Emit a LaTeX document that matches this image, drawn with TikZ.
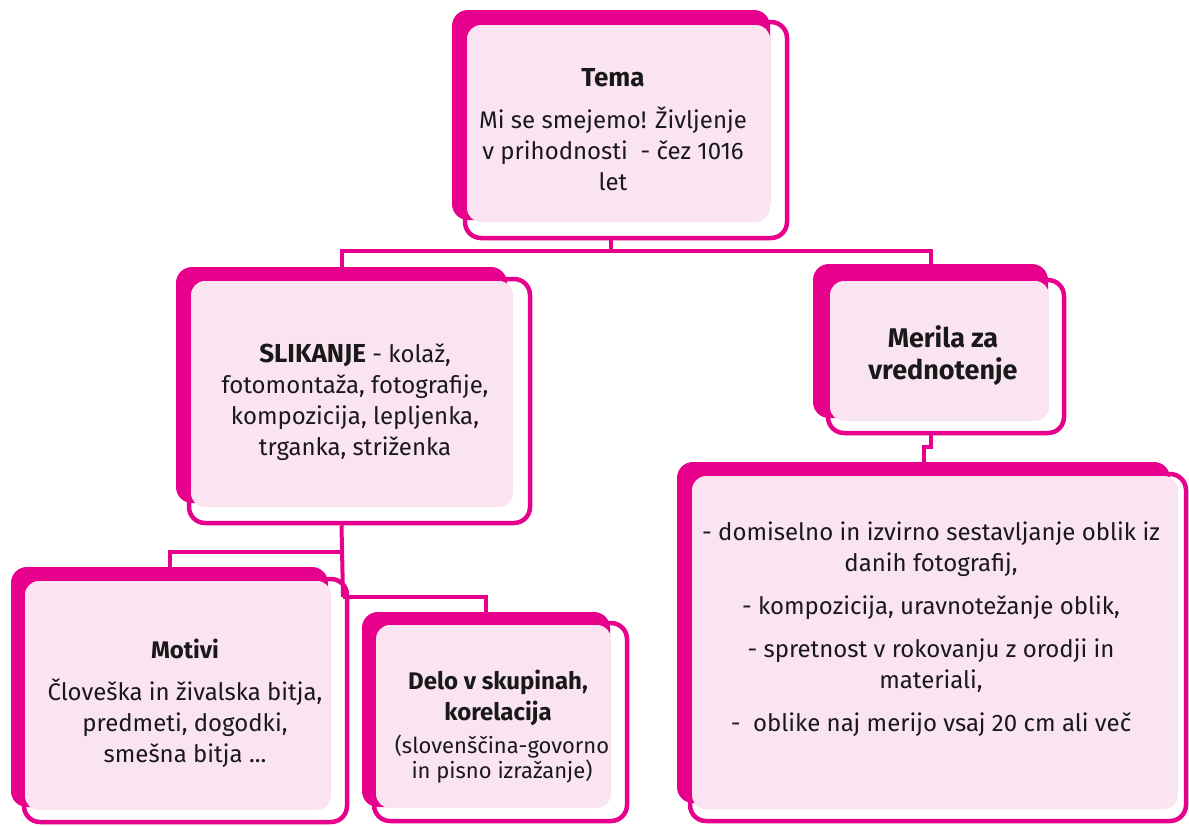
\documentclass[tikz,border=0pt]{standalone}
\usepackage{fontspec}
\setmainfont{Fira Sans}
\definecolor{mag}{RGB}{230,0,140}
\definecolor{pinkf}{RGB}{251,228,242}
\definecolor{ink}{RGB}{25,25,25}
\begin{document}
\begin{tikzpicture}[x=1pt,y=-1pt,
  backbox/.style={fill=mag, rounded corners=16pt, inner sep=0pt, draw=none},
  pinkbox/.style={fill=pinkf, rounded corners=14pt, inner sep=0pt, draw=none},
  outbox/.style={draw=mag, line width=4.5pt, rounded corners=16pt, inner sep=0pt},
  conn/.style={draw=mag, line width=4pt},
  txt/.style={text=ink, align=center, font=\fontsize{24}{31}\selectfont, inner sep=0pt},
  bigtxt/.style={text=ink, align=center, font=\fontsize{27}{32}\selectfont\bfseries, inner sep=0pt},
  subtxt/.style={text=ink, align=center, font=\fontsize{22}{23}\selectfont, inner sep=0pt},
]
\useasboundingbox (0,0) rectangle (1189,825);

% Tema
\node[outbox, minimum width=322pt, minimum height=216pt] (temaO) at (626,130) {};
\node[backbox, minimum width=318pt, minimum height=210pt] (tema) at (611,115) {};
\node[pinkbox, minimum width=303pt, minimum height=197pt] (temaP) at (618.5,123.5) {};
\node[txt] (temaT) at (613,130) {{\fontsize{26}{31}\selectfont\textbf{Tema}}\\[11pt] Mi se smejemo! Življenje\\ v prihodnosti \ - čez 1016\\ let};

% Slikanje
\node[outbox, minimum width=341pt, minimum height=244pt] (slikO) at (359.5,401) {};
\node[backbox, minimum width=331pt, minimum height=236pt] (slik) at (341.5,385) {};
\node[pinkbox, minimum width=322pt, minimum height=226pt] (slikP) at (352,394) {};
\node[txt] (slikT) at (355,402) {{\fontsize{26}{31}\selectfont\textbf{SLIKANJE}} - kolaž,\\ fotomontaža, fotografije,\\ kompozicija, lepljenka,\\ trganka, striženka};

% Merila
\node[outbox, minimum width=236pt, minimum height=153pt] (meriO) at (946,356.5) {};
\node[backbox, minimum width=235pt, minimum height=154pt] (meri) at (930.5,341) {};
\node[pinkbox, minimum width=219pt, minimum height=140pt] (meriP) at (939.5,351) {};
\node[bigtxt] (meriT) at (943,356) {Merila za\\ vrednotenje};

% Motivi
\node[outbox, minimum width=323pt, minimum height=243pt] (motO) at (185.5,700.5) {};
\node[backbox, minimum width=317pt, minimum height=240pt] (mot) at (169.5,687) {};
\node[pinkbox, minimum width=306pt, minimum height=229pt] (motP) at (178,695.5) {};
\node[txt] (motT) at (185,703) {\textbf{Motivi}\\[11pt] Človeška in živalska bitja,\\ predmeti, dogodki,\\ smešna bitja ...};

% Delo
\node[outbox, minimum width=253pt, minimum height=198pt] (deloO) at (500.5,722) {};
\node[backbox, minimum width=248pt, minimum height=195pt] (delo) at (486,709.5) {};
\node[pinkbox, minimum width=235pt, minimum height=183pt] (deloP) at (493.5,716.5) {};
\node[txt] (deloT) at (498,698) {\textbf{Delo v skupinah,}\\ \textbf{korelacija}};
\node[subtxt] (deloS) at (502,759) {(slovenščina-govorno\\ in pisno izražanje)};

% Criteria
\node[outbox, minimum width=496pt, minimum height=347pt] (critO) at (938,647.5) {};
\node[backbox, minimum width=493pt, minimum height=341pt] (crit) at (923.5,632.5) {};
\node[pinkbox, minimum width=486pt, minimum height=333pt] (critP) at (935,642.5) {};
\node[txt] (critT) at (931,629) {- domiselno in izvirno sestavljanje oblik iz\\ danih fotografij,\\[12pt] - kompozicija, uravnotežanje oblik,\\[12pt] - spretnost v rokovanju z orodji in\\ materiali,\\[12pt] - \ oblike naj merijo vsaj 20 cm ali več};

% connectors
\coordinate (j1) at (611,251);
\coordinate (j3) at (343,552);
\coordinate (j2) at (343,597);
\draw[conn] (tema.south |- temaO.south) -- (j1);
\draw[conn] (j1) -| (slik.north);
\draw[conn] (j1) -| (meri.north);
\draw[conn] (slik.south |- slikO.south) -- (j2);
\draw[conn] (j3) -| (mot.north);
\draw[conn] (j2) -| (delo.north);
\draw[conn] (meri.south |- meriO.south) -- ++(0,12) -| (crit.north);
\end{tikzpicture}
\end{document}
